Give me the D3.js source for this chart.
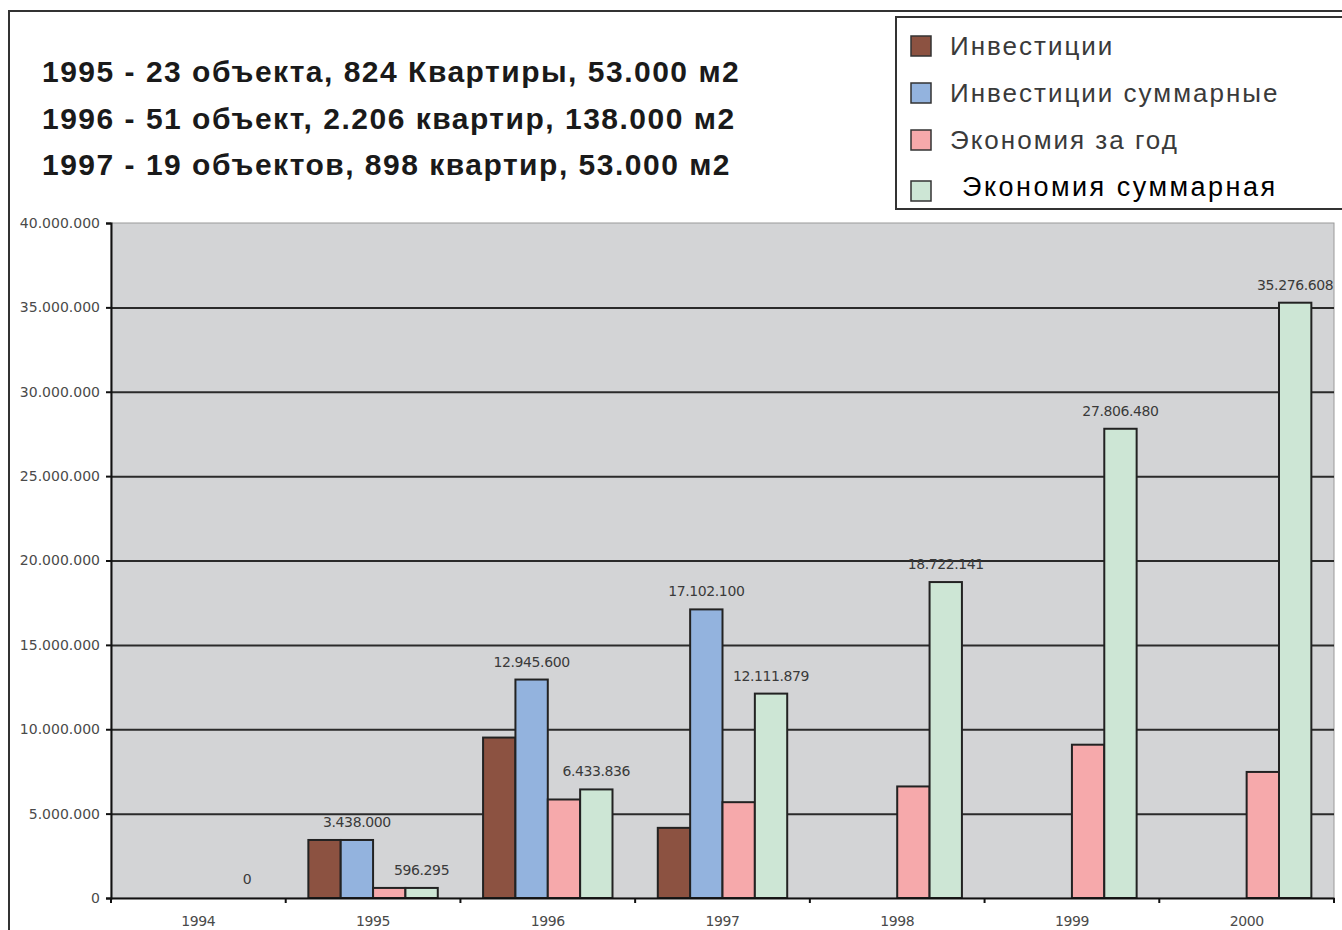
<!DOCTYPE html>
<html>
<head>
<meta charset="utf-8">
<script src="https://cdn.jsdelivr.net/npm/d3@7"></script>
<style>
  body { margin: 0; background: #fff; }
  svg { display: block; }
</style>
</head>
<body>
<div id="chart"></div>
<script>
// categories and series
var years = ["1994", "1995", "1996", "1997", "1998", "1999", "2000"];
var seriesNames = ["Инвестиции", "Инвестиции суммарные", "Экономия за год", "Экономия суммарная"];
var invest      = [0, 3438000, 9507600, 4156500, null, null, null];
var investTotal = [0, 3438000, 12945600, 17102100, null, null, null];
var saveYear    = [0, 596295, 5837541, 5678043, 6610262, 9084339, 7470128];
var saveTotal   = [0, 596295, 6433836, 12111879, 18722141, 27806480, 35276608];
var seriesColors = ["#8c5241", "#93b3de", "#f6a9ab", "#cde6d5"];
var yTicks = [0, 5000000, 10000000, 15000000, 20000000, 25000000, 30000000, 35000000, 40000000];
var notes = [
  "1995 - 23 объекта, 824 Квартиры, 53.000 м2",
  "1996 - 51 объект, 2.206 квартир, 138.000 м2",
  "1997 - 19 объектов, 898 квартир, 53.000 м2"
];
// which bars get a value label
var labelBlue = [false, true, true, true, false, false, false];
var labelGreen = [true, true, true, true, true, true, true];

var allSeries = [invest, investTotal, saveYear, saveTotal];
var labelFlags = [null, labelBlue, null, labelGreen];

var W = 1342, H = 930;
var margin = {top: 223, right: 8, bottom: 32, left: 111};
var width = W - margin.left - margin.right,
    height = H - margin.top - margin.bottom;

var fmt = function(v) {
  return d3.format(",")(v).replace(/,/g, ".");
};

var svg = d3.select("#chart").append("svg")
    .attr("width", W)
    .attr("height", H);

// outer frame (top and left edges)
svg.append("path")
    .attr("d", "M9," + H + "V11H" + W)
    .attr("fill", "none")
    .attr("stroke", "#333")
    .attr("stroke-width", 2);

// notes at top left
svg.selectAll("text.note")
  .data(notes)
  .enter().append("text")
    .attr("class", "note")
    .attr("x", 42)
    .attr("y", function(d, i) { return 82 + i * 46.5; })
    .style("font-family", "Liberation Sans, Arial, sans-serif")
    .style("font-weight", "bold")
    .style("font-size", "30px")
    .style("letter-spacing", "1.5px")
    .attr("fill", "#1a1a1a")
    .text(function(d) { return d; });

// legend
var legend = svg.append("g").attr("transform", "translate(896,17)");
legend.append("rect")
    .attr("width", 460)
    .attr("height", 192)
    .attr("fill", "#fff")
    .attr("stroke", "#333")
    .attr("stroke-width", 2);
seriesNames.forEach(function(name, i) {
  var yc = 29 + i * 47;
  legend.append("rect")
      .attr("x", 15)
      .attr("y", yc - 10 + (i == 3 ? 4 : 0))
      .attr("width", 20)
      .attr("height", 20)
      .attr("fill", seriesColors[i])
      .attr("stroke", "#333")
      .attr("stroke-width", 1.5);
  legend.append("text")
      .attr("x", i == 3 ? 66 : 54)
      .attr("y", yc + 9)
      .style("font-family", "Liberation Sans, Arial, sans-serif")
      .style("font-size", i == 3 ? "27px" : "26px")
      .attr("fill", i == 3 ? "#000" : "#3a3a3a")
      .style("letter-spacing", i == 3 ? "2.5px" : "2px")
      .text(name);
});

var g = svg.append("g")
    .attr("transform", "translate(" + margin.left + "," + margin.top + ")");

var x0 = d3.scaleBand().domain(years).range([0, width]).padding(0);
var x1 = d3.scaleBand().domain(d3.range(4)).range([0, x0.bandwidth()])
    .paddingInner(0).paddingOuter(0.7);
var y = d3.scaleLinear().domain([0, 40000000]).range([height, 0]);

// plot background
g.append("rect")
    .attr("width", width)
    .attr("height", height)
    .attr("fill", "#d3d4d6")
    .attr("stroke", "#9a9a9a")
    .attr("stroke-width", 1);

// gridlines
g.append("g")
    .attr("class", "gridline")
    .call(d3.axisLeft(y).tickValues(yTicks.slice(1, -1)).tickSize(-width).tickFormat(""))
    .call(function(s) { s.select(".domain").remove(); })
    .selectAll("line")
      .attr("stroke", "#2a2a2a")
      .attr("stroke-width", 2);

// bars
var groups = g.selectAll("g.year")
  .data(years)
  .enter().append("g")
    .attr("class", "year")
    .attr("transform", function(d) { return "translate(" + x0(d) + ",0)"; });

groups.each(function(yr, yi) {
  var grp = d3.select(this);
  allSeries.forEach(function(vals, si) {
    var v = vals[yi];
    if (v == null || v == 0) return;
    grp.append("rect")
        .attr("x", x1(si))
        .attr("y", y(v))
        .attr("width", x1.bandwidth())
        .attr("height", height - y(v))
        .attr("fill", seriesColors[si])
        .attr("stroke", "#222")
        .attr("stroke-width", 2);
  });
});

// value labels
groups.each(function(yr, yi) {
  var grp = d3.select(this);
  var gx = x0(yr);
  allSeries.forEach(function(vals, si) {
    var flags = labelFlags[si];
    if (!flags || !flags[yi]) return;
    var v = vals[yi];
    var t = grp.append("text")
        .attr("x", x1(si) + x1.bandwidth() / 2)
        .attr("y", y(v) - (v == 0 ? 14 : 13))
        .attr("text-anchor", "middle")
        .style("font-family", "DejaVu Sans, sans-serif")
        .style("font-size", "14px")
        .style("letter-spacing", "-0.4px")
        .attr("fill", "#3a3a3a")
        .text(fmt(v));
    // keep label inside the plot on the right
    var len = t.node().getComputedTextLength();
    var right = gx + x1(si) + x1.bandwidth() / 2 + len / 2;
    if (right > width) t.attr("x", x1(si) + x1.bandwidth() / 2 - (right - width));
  });
});

// y axis
var yAxis = g.append("g")
    .attr("class", "y axis")
    .call(d3.axisLeft(y).tickValues(yTicks).tickSize(5).tickPadding(6).tickFormat(fmt));
yAxis.select(".domain").attr("stroke", "#111").attr("stroke-width", 2);
yAxis.selectAll(".tick line").attr("stroke", "#111").attr("stroke-width", 2);
yAxis.selectAll("text")
    .style("font-family", "DejaVu Sans, sans-serif")
    .style("font-size", "14px")
    .style("letter-spacing", "0px")
    .attr("fill", "#4a4a4a");

// x axis with ticks on band boundaries
var xAxis = g.append("g")
    .attr("class", "x axis")
    .attr("transform", "translate(0," + height + ")")
    .call(d3.axisBottom(x0).tickSize(0).tickPadding(18));
xAxis.select(".domain").attr("stroke", "#111").attr("stroke-width", 2);
xAxis.selectAll("text")
    .style("font-family", "DejaVu Sans, sans-serif")
    .style("font-size", "14px")
    .style("letter-spacing", "-0.4px")
    .attr("fill", "#4a4a4a");
xAxis.selectAll("line.bound")
  .data(years.concat(["end"]))
  .enter().append("line")
    .attr("class", "bound")
    .attr("x1", function(d, i) { return i * x0.step(); })
    .attr("x2", function(d, i) { return i * x0.step(); })
    .attr("y1", 0)
    .attr("y2", 5)
    .attr("stroke", "#111")
    .attr("stroke-width", 2);
</script>
</body>
</html>
